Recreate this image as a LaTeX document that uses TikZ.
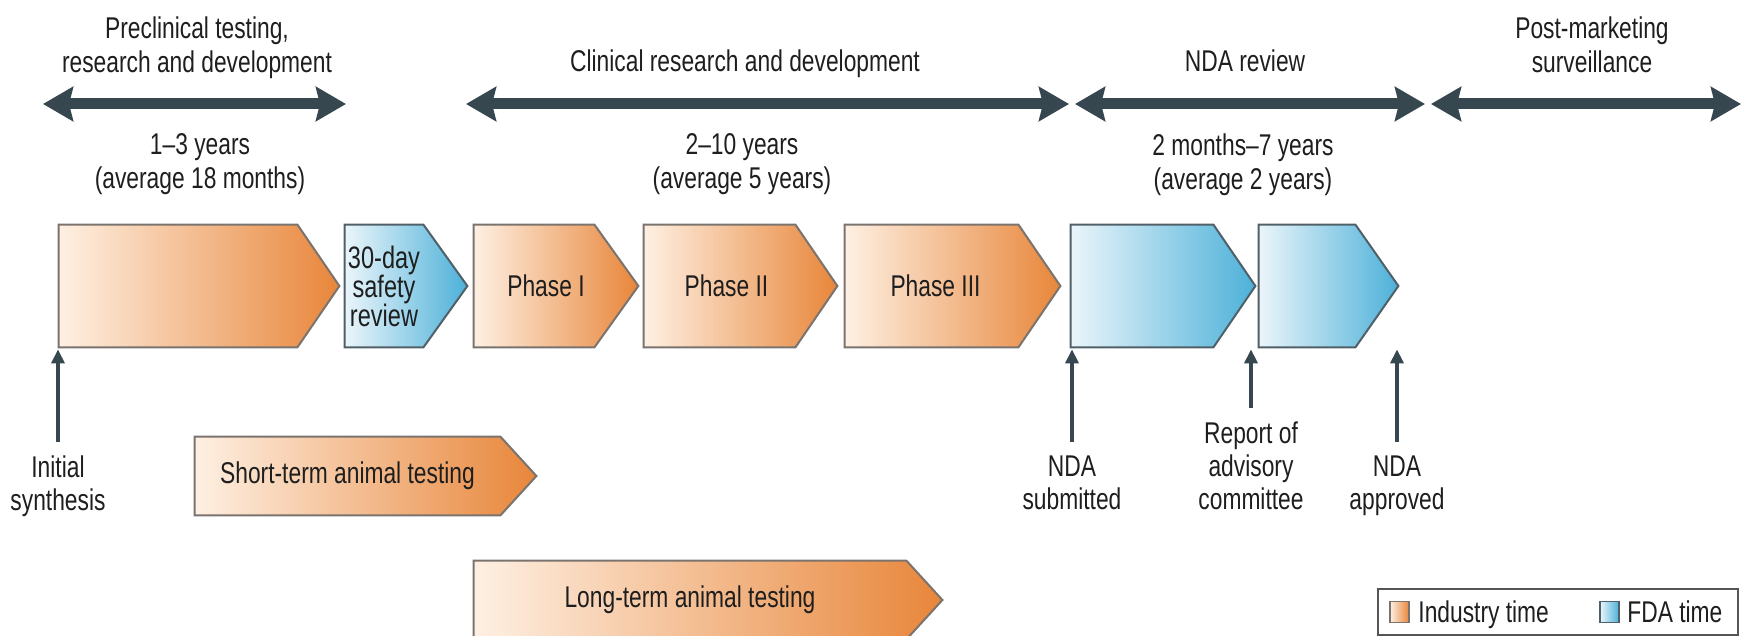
\documentclass[tikz,border=0pt]{standalone}
\usepackage{fontspec}
\setmainfont{Liberation Sans}[FakeStretch=0.76]
\usetikzlibrary{arrows.meta,calc}
\pgfdeclarelayer{bg}
\pgfsetlayers{bg,main}

\definecolor{ink}{HTML}{1E1E1E}
\definecolor{slate}{HTML}{37474F}
\definecolor{orangeL}{HTML}{FEF0E3}
\definecolor{orangeR}{HTML}{E8863A}
\definecolor{blueL}{HTML}{EBF5FA}
\definecolor{blueR}{HTML}{4DB1D9}
\definecolor{edgeO}{HTML}{7A736E}
\definecolor{edgeB}{HTML}{506068}
\definecolor{legendedge}{HTML}{555555}

\tikzset{
  lbl/.style={font=\fontsize{15}{17}\selectfont, text=ink, align=center, inner sep=0pt},
  stage/.style={lbl, minimum height=61pt},
  ministage/.style={lbl, minimum height=39pt},
  industry/.style={draw=edgeO, line width=1pt, left color=orangeL, right color=orangeR, line join=miter},
  fda/.style={draw=edgeB, line width=1pt, left color=blueL, right color=blueR, line join=miter},
  spanarrow/.style={draw=slate, line width=5.5pt,
    {Stealth[length=15pt,width=17pt,inset=2pt]}-{Stealth[length=15pt,width=17pt,inset=2pt]}},
  markarrow/.style={draw=slate, line width=2pt, -{Triangle[length=7pt,width=6.5pt]},
    shorten <=7pt, shorten >=1pt},
}

% chevron outline built on a node's body: node, point depth, style
\newcommand\chevron[3]{%
  \path[#3] (#1.north west) -- (#1.north east) -- ($(#1.east)+(#2,0)$)
    -- (#1.south east) -- (#1.south west) -- cycle;}

\begin{document}
\begin{tikzpicture}[x=0.5pt,y=-0.5pt]
\useasboundingbox (0,0) rectangle (1750,636);

% phase headings
\node[lbl, anchor=north] (h1) at (197,16.5) {Preclinical testing,\\research and development};
\node[lbl, anchor=base]  (h2) at (745,72) {Clinical research and development};
\node[lbl, anchor=base]  (h3) at (1245,72) {NDA review};
\node[lbl, anchor=north] (h4) at (1592,16.5) {Post-marketing\\surveillance};

% duration spans
\coordinate (a1l) at (43,104);   \coordinate (a1r) at (346,104);
\coordinate (a2l) at (466,104);  \coordinate (a2r) at (1069,104);
\coordinate (a3l) at (1075,104); \coordinate (a3r) at (1425,104);
\coordinate (a4l) at (1431,104); \coordinate (a4r) at (1741,104);
\draw[spanarrow] (a1l) -- (a1r);
\draw[spanarrow] (a2l) -- (a2r);
\draw[spanarrow] (a3l) -- (a3r);
\draw[spanarrow] (a4l) -- (a4r);

\node[lbl, anchor=north] (d1) at (200,133) {1–3 years\\(average 18 months)};
\node[lbl, anchor=north] (d2) at (742,133) {2–10 years\\(average 5 years)};
\node[lbl, anchor=north] (d3) at (1243,133) {2 months–7 years\\(average 2 years)};

% main stage row (node = rectangular body of each chevron)
\node[stage, minimum width=119pt]  (pre)    at (178,286) {};
\node[stage, minimum width=39pt, font=\fontsize{15.5}{14.5}\selectfont] (safety) at (384,286) {30-day\\safety\\review};
\node[stage, minimum width=60pt]   (ph1)    at (534,286) {\hspace*{12pt}Phase I};
\node[stage, minimum width=75.5pt] (ph2)    at (719.5,286) {\hspace*{7pt}Phase II};
\node[stage, minimum width=86.5pt] (ph3)    at (931.5,286) {\hspace*{4pt}Phase III};
\node[stage, minimum width=71pt]   (nda1)   at (1142,286) {};
\node[stage, minimum width=48pt]   (nda2)   at (1307,286) {};

% animal testing rows
\node[ministage, minimum width=152.5pt] (short) at (347.5,476) {Short-term animal testing};
\node[ministage, minimum width=216pt]   (long)  at (690,600) {Long-term animal testing};

\begin{pgfonlayer}{bg}
  \chevron{pre}{42}{industry}
  \chevron{safety}{44}{fda}
  \chevron{ph1}{44}{industry}
  \chevron{ph2}{42}{industry}
  \chevron{ph3}{42}{industry}
  \chevron{nda1}{42}{fda}
  \chevron{nda2}{43}{fda}
  \chevron{short}{36}{industry}
  \chevron{long}{36}{industry}
\end{pgfonlayer}

% milestones
\node[lbl, anchor=north, font=\fontsize{15}{16.5}\selectfont] (init)   at (58,455.5)   {Initial\\synthesis};
\node[lbl, anchor=north, font=\fontsize{15}{16.5}\selectfont] (ndasub) at (1072,455.5) {NDA\\submitted};
\node[lbl, anchor=north, font=\fontsize{15}{16.5}\selectfont] (report) at (1251,421.5) {Report of\\advisory\\committee};
\node[lbl, anchor=north, font=\fontsize{15}{16.5}\selectfont] (ndaapp) at (1397,455.5) {NDA\\approved};

\draw[markarrow] (init.north)   -- (init.north |- pre.south);
\draw[markarrow] (ndasub.north) -- (ndasub.north |- nda1.south);
\draw[markarrow] (report.north) -- (report.north |- nda1.south);
\draw[markarrow] (ndaapp.north) -- (ndaapp.north |- nda2.south);

% legend
\node[draw=legendedge, line width=1pt, minimum width=180pt, minimum height=23pt, inner sep=0pt] (legend) at (1558,612) {};
\node[draw=edgeO, line width=0.8pt, left color=orangeL, right color=orangeR,
      minimum width=9.5pt, minimum height=10.5pt, inner sep=0pt] (keyind) at (1399.5,612) {};
\node[lbl, anchor=base west] (keyindtxt) at (1418,622) {Industry time};
\node[draw=edgeB, line width=0.8pt, left color=blueL, right color=blueR,
      minimum width=9.5pt, minimum height=10.5pt, inner sep=0pt] (keyfda) at (1609.5,612) {};
\node[lbl, anchor=base west] (keyfdatxt) at (1627,622) {FDA time};
\end{tikzpicture}
\end{document}
